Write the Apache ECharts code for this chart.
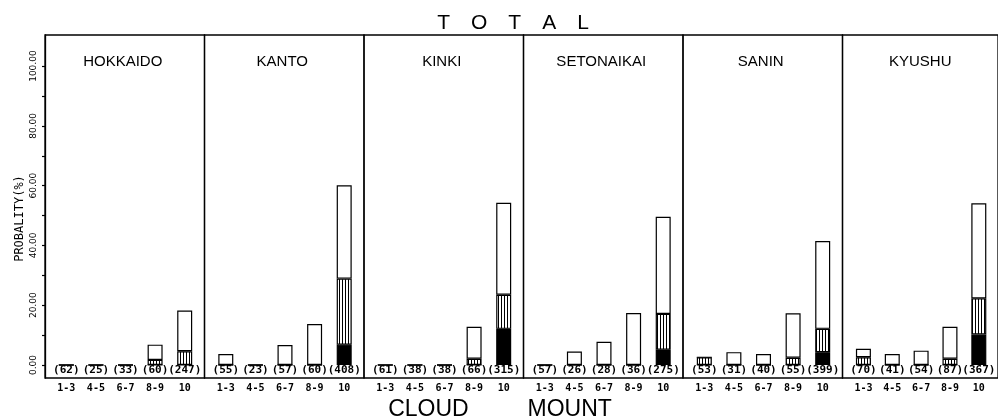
<!DOCTYPE html>
<html>
<head>
<meta charset="utf-8">
<script src="https://cdn.jsdelivr.net/npm/echarts@6/dist/echarts.min.js"></script>
<style>
  html, body { margin: 0; padding: 0; background: #fff; }
  #chart { width: 998px; height: 418px; }
</style>
</head>
<body>
<div id="chart"></div>
<script>
// Regions (one panel each) and cloud amount classes
const regions = ['HOKKAIDO', 'KANTO', 'KINKI', 'SETONAIKAI', 'SANIN', 'KYUSHU'];
const cloudClasses = ['1-3', '4-5', '6-7', '8-9', '10'];

// Number of cases per class, printed in parentheses
const sampleCounts = [
  [62, 25, 33, 60, 247],
  [55, 23, 57, 60, 408],
  [61, 38, 38, 66, 315],
  [57, 26, 28, 36, 275],
  [53, 31, 40, 55, 399],
  [70, 41, 54, 87, 367]
];

// Probability (%) split into three stacked parts: solid (bottom), hatched, open (top)
const solidPart = [
  [0, 0, 0, 0, 0],
  [0, 0, 0, 0, 6.8],
  [0, 0, 0, 0, 12.1],
  [0, 0, 0, 0, 5.1],
  [0, 0, 0, 0, 4.3],
  [0, 0, 0, 0, 10.2]
];
const hatchedPart = [
  [0, 0, 0, 1.7, 4.6],
  [0, 0, 0, 0, 22.1],
  [0, 0, 0, 2.1, 11.4],
  [0, 0, 0, 0, 12.0],
  [2.6, 0, 0, 2.4, 7.8],
  [2.6, 0, 0, 2.1, 12.1]
];
const openPart = [
  [0, 0, 0, 5.1, 13.6],
  [3.7, 0, 6.7, 13.7, 31.2],
  [0, 0, 0, 10.7, 30.8],
  [0, 4.5, 7.8, 17.4, 32.5],
  [0, 4.3, 3.7, 14.9, 29.4],
  [2.8, 3.7, 4.8, 10.7, 31.8]
];

// Y axis tick positions
const yLabelValues = [0, 20, 40, 60, 80, 100];
const yTickValues = [0, 10, 20, 30, 40, 50, 60, 70, 80, 90, 100];

// Vertical-line hatch fill
const hatch = document.createElement('canvas');
hatch.width = 3; hatch.height = 4;
const hctx = hatch.getContext('2d');
hctx.fillStyle = '#fff'; hctx.fillRect(0, 0, 3, 4);
hctx.fillStyle = '#000'; hctx.fillRect(0, 0, 1, 4);
const hatchFill = { image: hatch, repeat: 'repeat' };

const Y_MIN = -4.35, Y_MAX = 110.4;
const PANEL_LEFT = 45, PANEL_W = 159.5, TOP = 35, HEIGHT = 343;
const INSET = 6.5, INNER_W = 148;

const grid = [], xAxis = [], yAxis = [], series = [];
const title = [
  { text: 'T\u2003O\u2003T\u2003A\u2003L', left: 508, top: 8, textAlign: 'center',
    textStyle: { fontFamily: 'Liberation Sans', fontSize: 21, fontWeight: 'normal', color: '#000' } },
  { text: 'CLOUD\u2003\u2003  MOUNT', left: 495, top: 393, textAlign: 'center',
    textStyle: { fontFamily: 'Liberation Sans', fontSize: 23, fontWeight: 'normal', color: '#000' } }
];

const barBorder = { borderColor: '#000', borderWidth: 1.2 };

regions.forEach((name, k) => {
  const left = PANEL_LEFT + k * PANEL_W;

  // Panel frame
  const frameGrid = grid.length;
  grid.push({ left: left, top: TOP, width: PANEL_W, height: HEIGHT, show: true,
              borderColor: '#000', borderWidth: 1.3, backgroundColor: 'rgba(0,0,0,0)' });
  xAxis.push({ gridIndex: frameGrid, type: 'value', min: 0, max: 1, show: false });
  yAxis.push({
    gridIndex: frameGrid, type: 'value', min: Y_MIN, max: Y_MAX, show: k === 0,
    name: 'PROBALITY(%)', nameLocation: 'middle', nameGap: 19,
    nameTextStyle: { fontFamily: 'DejaVu Sans Mono', fontSize: 12, color: '#000', padding: [0, 24, 0, 0] },
    splitLine: { show: false },
    axisLine: { show: true, lineStyle: { color: '#000', width: 1.3 } },
    axisTick: { show: true, length: 3, customValues: yTickValues, lineStyle: { color: '#000', width: 1.2 } },
    axisLabel: { customValues: yLabelValues, rotate: 90, margin: 7,
                 formatter: v => v.toFixed(2),
                 fontFamily: 'DejaVu Sans', fontSize: 9, color: '#000' }
  });

  // Bars
  const dataGrid = grid.length;
  grid.push({ left: left + INSET, top: TOP, width: INNER_W, height: HEIGHT, show: false });
  const catAxis = xAxis.length;
  xAxis.push({
    gridIndex: dataGrid, type: 'category', position: 'bottom', data: cloudClasses,
    axisLine: { show: false }, axisTick: { show: false },
    axisLabel: { margin: 5, fontFamily: 'DejaVu Sans Mono', fontWeight: 'bold', fontSize: 10, color: '#000', interval: 0 }
  });
  xAxis.push({
    gridIndex: dataGrid, type: 'category', position: 'bottom',
    data: sampleCounts[k].map(c => '(' + c + ')'),
    axisLine: { show: false }, axisTick: { show: false },
    axisLabel: { inside: true, margin: 2, fontFamily: 'DejaVu Sans Mono', fontWeight: 'bold', fontSize: 11, color: '#000', interval: 0 }
  });
  const valAxis = yAxis.length;
  yAxis.push({ gridIndex: dataGrid, type: 'value', min: Y_MIN, max: Y_MAX, show: false });

  const common = { type: 'bar', xAxisIndex: catAxis, yAxisIndex: valAxis, stack: 'panel' + k,
                   barWidth: 15, silent: true };
  series.push(Object.assign({ name: name + ' solid', data: solidPart[k],
    itemStyle: Object.assign({ color: '#000' }, barBorder) }, common));
  series.push(Object.assign({ name: name + ' hatched', data: hatchedPart[k],
    itemStyle: Object.assign({ color: hatchFill }, barBorder) }, common));
  series.push(Object.assign({ name: name + ' open', data: openPart[k],
    itemStyle: Object.assign({ color: '#fff' }, barBorder) }, common));

  // Region name
  title.push({ text: name, left: left + PANEL_W / 2 - 7, top: 49, textAlign: 'center',
    textStyle: { fontFamily: 'Liberation Sans', fontSize: 15, fontWeight: 'normal', color: '#000' } });
});

const chart = echarts.init(document.getElementById('chart'));
chart.setOption({
  animation: false,
  backgroundColor: '#fff',
  title: title,
  grid: grid,
  xAxis: xAxis,
  yAxis: yAxis,
  series: series
});
</script>
</body>
</html>
